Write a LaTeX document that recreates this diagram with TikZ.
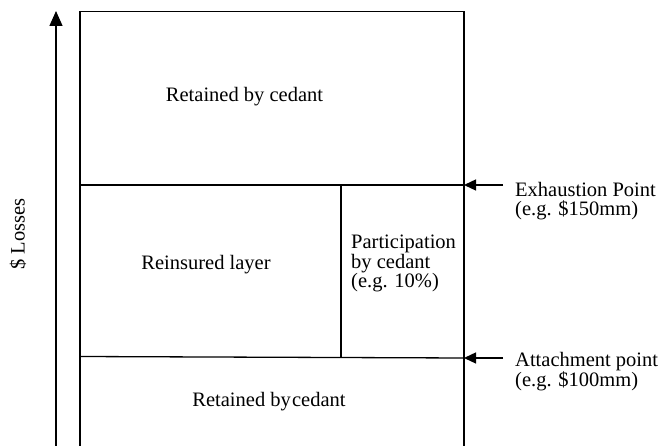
\documentclass[tikz,border=0pt]{standalone}
\usepackage{fontspec}
\setmainfont{Liberation Serif}
\usetikzlibrary{arrows.meta}
\begin{document}
\begin{tikzpicture}[x=1pt,y=-1pt,
  frame/.style={line width=1.3pt},
  pointer/.style={line width=1.3pt,-{Triangle[length=12pt,width=11pt]}},
  axis/.style={line width=1.3pt,-{Triangle[length=15pt,width=13pt]}},
  lbl/.style={inner sep=0pt,font=\fontsize{20.5}{19.5}\selectfont},
  multi/.style={lbl,align=left,anchor=base west}]
\useasboundingbox (0,0) rectangle (662,446);
% corners of the layer diagram
\coordinate (tl) at (80,11.7);
\coordinate (tr) at (464,11.7);
\coordinate (bl) at (80,446);
\coordinate (br) at (464,446);
\coordinate (exl) at (80,185);
\coordinate (exr) at (464,185);
\coordinate (atl) at (80,356.5);
\coordinate (atr) at (464,358);
\coordinate (dvt) at (341,185);
\coordinate (dvb) at (341,357.5);
\coordinate (exs) at (503,185);
\coordinate (ats) at (503,358);
\coordinate (axb) at (56,446);
\coordinate (axt) at (56,11);
% outline and layer boundaries
\draw[frame] (bl) -- (tl) -- (tr) -- (br);
\draw[frame] (exl) -- (exr);
\draw[frame] (atl) -- (atr);
\draw[frame] (dvt) -- (dvb);
% loss axis and pointers
\draw[axis] (axb) -- (axt);
\draw[pointer] (exs) -- (exr);
\draw[pointer] (ats) -- (atr);
% layer texts (multi-line nodes sit on the baseline of their last line)
\node[lbl,anchor=base] (top) at (244.5,101.7) {Retained by cedant};
\node[lbl,anchor=base] (layer) at (206,269.3) {Reinsured layer};
\node[multi] (part) at (351,288) {Participation\\by cedant\\(e.g. 10\%)};
\node[lbl,anchor=base] (bottom) at (269,406.7) {Retained by\hspace{0.06em}cedant};
\node[multi] (exh) at (515,216) {Exhaustion Point\\(e.g. \$150mm)};
\node[multi] (att) at (515,386.5) {Attachment point\\(e.g. \$100mm)};
\node[lbl,rotate=90,anchor=base] (loss) at (24.5,234) {\$ Losses};
\end{tikzpicture}
\end{document}
